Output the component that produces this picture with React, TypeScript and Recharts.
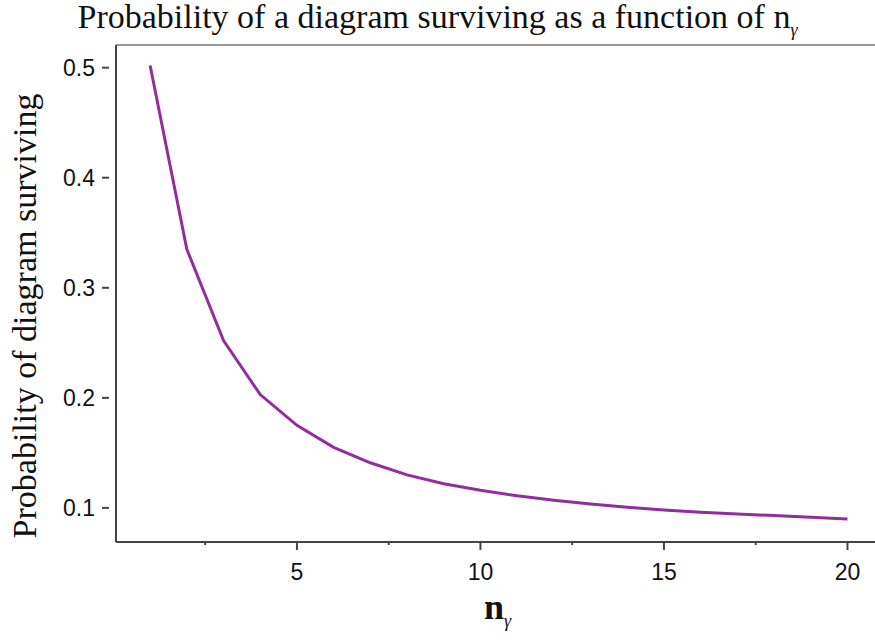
import { LineChart, Line, XAxis, YAxis, ReferenceLine } from 'recharts';

const photonCounts = [1, 2, 3, 4, 5, 6, 7, 8, 9, 10, 11, 12, 13, 14, 15, 16, 17, 18, 19, 20];
const survivalProb = [0.502, 0.335, 0.252, 0.203, 0.175, 0.155, 0.141, 0.130, 0.122, 0.116, 0.111, 0.107, 0.1035, 0.1005, 0.098, 0.096, 0.0945, 0.093, 0.0915, 0.090];
const xTicks = [2.5, 5, 7.5, 10, 12.5, 15, 17.5, 20];
const yTicks = [0.1, 0.2, 0.3, 0.4, 0.5];

const data = photonCounts.map((n, i) => ({ n, p: survivalProb[i] }));

const AXIS = '#444';
const Y_MAX = 0.5206;
const SANS = "'Liberation Sans', Arial, sans-serif";
const SERIF = "'Liberation Serif', 'Times New Roman', serif";

const XTick = (props: any) => {
    const { x, y, payload } = props;
    const major = payload.value % 5 === 0;
    return (
        <g>
            <line x1={x} y1={y - 8} x2={x} y2={y - 8 + (major ? 8 : 3)} stroke={AXIS} strokeWidth={2} />
            {major && (
                <text x={x} y={y + 30} textAnchor="middle" fontFamily={SANS} fontSize={23} fill="#111">
                    {payload.value}
                </text>
            )}
        </g>
    );
};

const YTick = (props: any) => {
    const { x, y, payload } = props;
    return (
        <g>
            <line x1={x + 1} y1={y} x2={x - 6} y2={y} stroke={AXIS} strokeWidth={2} />
            <text x={x - 13} y={y + 8} textAnchor="end" fontFamily={SANS} fontSize={23} fill="#111">
                {payload.value.toFixed(1)}
            </text>
        </g>
    );
};

export default function App() {
    return (
        <div style={{ position: 'absolute', left: 0, top: 0, width: 875, height: 643, background: '#fff', overflow: 'hidden' }}>
            <div style={{ position: 'absolute', left: 0, top: 0, width: 875, textAlign: 'center', fontFamily: SERIF, fontSize: 34, lineHeight: '34px', color: '#111' }}>
                Probability of a diagram surviving as a function of n<sub style={{ fontStyle: 'italic', fontSize: 18, lineHeight: '18px' }}>γ</sub>
            </div>
            <div style={{ position: 'absolute', left: 25, top: 316, transform: 'translate(-50%, -50%) rotate(-90deg)', whiteSpace: 'nowrap', fontFamily: SERIF, fontSize: 34, color: '#111' }}>
                Probability of diagram surviving
            </div>
            <div style={{ position: 'absolute', left: 484, top: 586, whiteSpace: 'nowrap', fontFamily: SERIF, fontSize: 36, fontWeight: 600, color: '#111' }}>
                n<sub style={{ fontStyle: 'italic', fontSize: 18, fontWeight: 400 }}>γ</sub>
            </div>
            <LineChart width={875} height={643} data={data} margin={{ top: 45, right: 0, left: 56, bottom: 71 }}>
                <XAxis
                    dataKey="n"
                    type="number"
                    domain={[0.07, 20.75]}
                    ticks={xTicks}
                    tick={<XTick />}
                    tickLine={false}
                    axisLine={{ stroke: AXIS, strokeWidth: 2 }}
                    height={30}
                    interval={0}
                    allowDataOverflow
                />
                <YAxis
                    type="number"
                    domain={[0.069, Y_MAX]}
                    ticks={yTicks}
                    tick={<YTick />}
                    tickLine={false}
                    axisLine={{ stroke: AXIS, strokeWidth: 2 }}
                    width={60}
                    interval={0}
                    allowDataOverflow
                />
                <ReferenceLine y={Y_MAX} stroke="#999" strokeWidth={2} />
                <Line type="linear" dataKey="p" stroke="#922d9e" strokeWidth={3} dot={false} isAnimationActive={false} />
            </LineChart>
        </div>
    );
}
